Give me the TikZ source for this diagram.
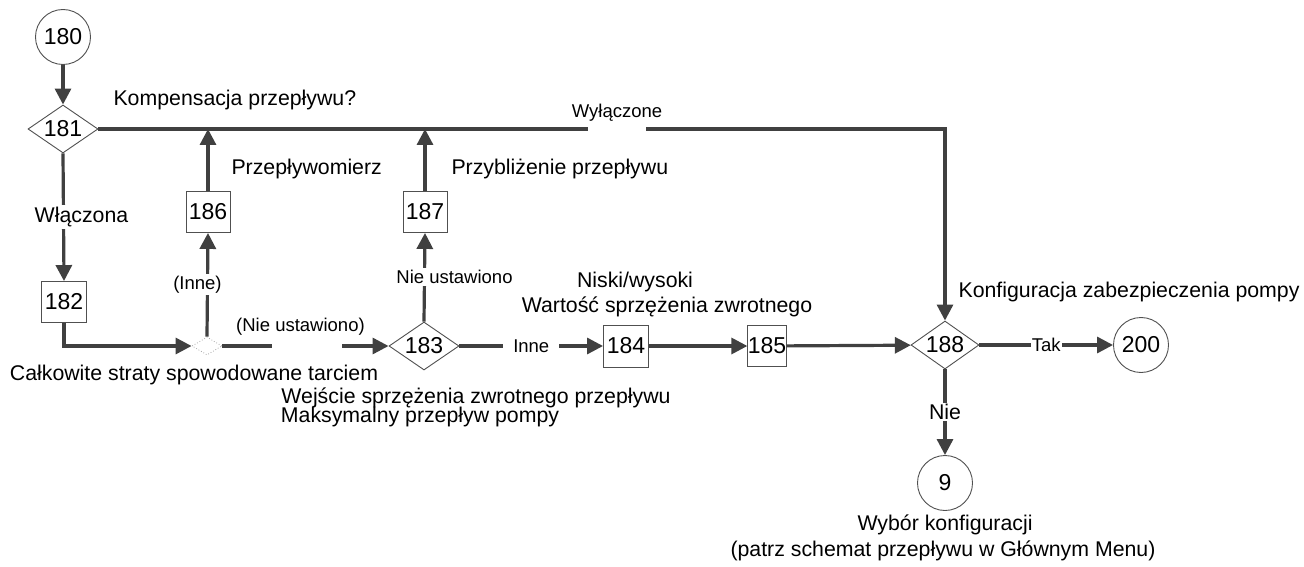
\documentclass[tikz,border=0pt]{standalone}
\usepackage{fontspec}
\setmainfont{Liberation Sans}
\usetikzlibrary{shapes.geometric,arrows.meta}
\definecolor{conn}{HTML}{404040}
\definecolor{shp}{HTML}{505050}
\begin{document}
\begin{tikzpicture}[x=1pt,y=-1pt,
  every node/.style={font=\fontsize{21.3}{25}\selectfont, text=black},
  numfont/.style={font=\fontsize{23}{27}\selectfont},
  stepbox/.style={draw=shp, line width=0.9pt, rectangle, minimum width=45pt, minimum height=41pt, inner sep=0pt, numfont},
  dia/.style={draw=shp, line width=0.9pt, diamond, shape aspect=1.4, minimum width=70pt, minimum height=48pt, inner sep=0pt, numfont},
  circ/.style={draw=shp, line width=0.9pt, circle, minimum size=55pt, inner sep=0pt, numfont},
  conline/.style={draw=conn, line width=3.2pt},
  arr/.style={conline, -{Triangle[length=16pt,width=16pt]}},
  lbl/.style={font=\fontsize{18.5}{22}\selectfont, fill=white, inner sep=2pt},
]
\useasboundingbox (0,0) rectangle (1304,567);

% shapes
\node[circ] (c180) at (63,37) {180};
\node[dia] (d181) at (63,129) {181};
\node[stepbox] (b182) at (64,302) {182};
\node[stepbox, minimum width=44pt] (b186) at (208,212) {186};
\node[stepbox, minimum width=44pt] (b187) at (425,212) {187};
\node[diamond, draw=gray!70, dotted, line width=0.8pt, minimum width=30pt, minimum height=18pt, inner sep=0pt] (dd) at (207,346) {};
\node[dia] (d183) at (424,346) {183};
\node[stepbox, minimum height=42pt] (b184) at (626,346) {184};
\node[stepbox, minimum width=34pt] (b185) at (767,346) {185};
\node[dia, minimum width=68pt] (d188) at (945,345) {188};
\node[circ] (c200) at (1141,345) {200};
\node[circ] (c9) at (945,483) {9};

% connectors
\draw[arr] (c180) -- (d181);
\draw[arr, dash pattern=on 490pt off 58pt on 2000pt] (d181.east) -| (d188.north);
\node[lbl, fill=none] (lwyl) at (617,113) {Wyłączone};
\draw[arr] (b186.north) -- (b186.north |- d181.east);
\draw[arr] (b187.north) -- (b187.north |- d181.east);
\draw[arr] (d181.south) -- node[midway, fill=white, inner sep=2pt, xshift=18pt] (lwl) {Włączona} (b182.north);
\draw[arr] (b182.south) |- (dd.west);
\draw[arr] (dd.north) -- node[lbl, midway, xshift=-10pt] (linne1) {(Inne)} (b186.south);
\draw[arr, dash pattern=on 50pt off 70pt on 500pt] (dd.east) -- node[lbl, fill=none, pos=0.47, yshift=19pt] (lnu1) {(Nie ustawiono)} (d183.west);
\draw[arr] (d183.north) -- node[lbl, midway, xshift=30pt] (lnu2) {Nie ustawiono} (b187.south);
\draw[arr] (d183.east) -- node[lbl, midway, inner xsep=10pt] (linne2) {Inne} (b184.west);
\draw[arr] (b184) -- (b185);
\draw[arr] (b185) -- (d188);
\draw[arr] (d188.east) -- node[lbl, midway, inner xsep=1pt] (ltak) {Tak} (c200);
\draw[arr] (d188.south) -- node[midway, fill=white, inner sep=1pt] (lnie) {Nie} (c9);

% texts
\node[anchor=west] (t1) at (110,100) {Kompensacja przepływu?};
\node[anchor=west] (t2) at (228,169) {Przepływomierz};
\node[anchor=west] (t3) at (448,169) {Przybliżenie przepływu};
\node (t4) at (635,282) {Niski/wysoki};
\node (t5) at (667,307) {Wartość sprzężenia zwrotnego};
\node[anchor=west] (t6) at (955,292) {Konfiguracja zabezpieczenia pompy};
\node (t7) at (194,375) {Całkowite straty spowodowane tarciem};
\node (t8) at (476,398) {Wejście sprzężenia zwrotnego przepływu};
\node (t9) at (420,417) {Maksymalny przepływ pompy};
\node (t10) at (945,525) {Wybór konfiguracji};
\node (t11) at (943,551) {(patrz schemat przepływu w Głównym Menu)};
\end{tikzpicture}
\end{document}
